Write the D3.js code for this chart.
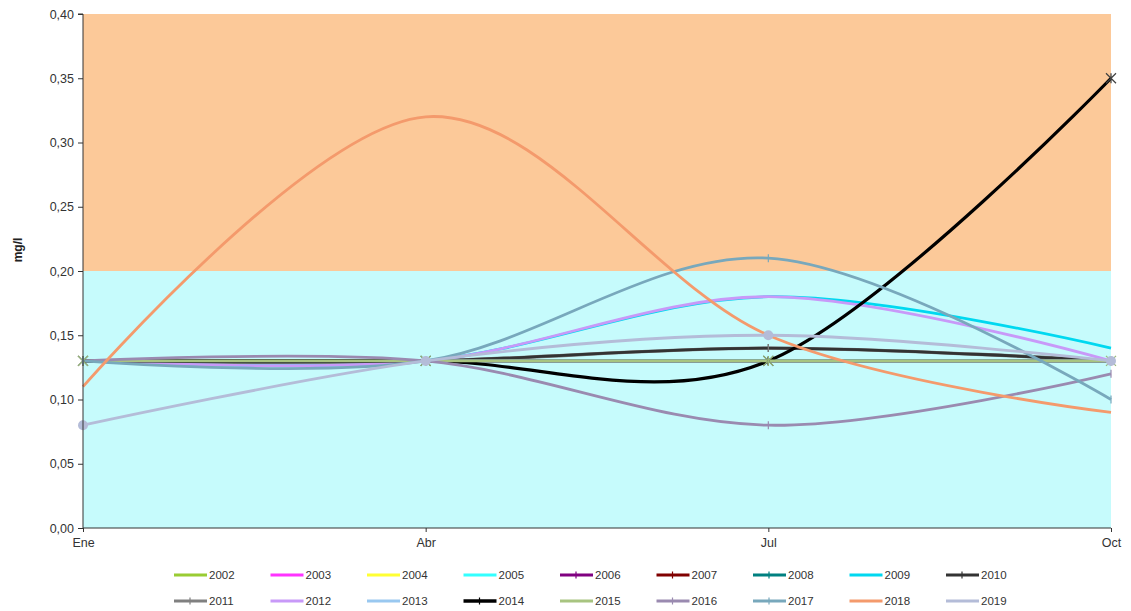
<!DOCTYPE html>
<html>
<head>
<meta charset="utf-8">
<script src="https://cdn.jsdelivr.net/npm/d3@7"></script>
<style>
  html, body { margin: 0; padding: 0; background: #ffffff; }
  svg { display: block; font-family: "Liberation Sans", Arial, sans-serif; }
</style>
</head>
<body>
<svg id="chart" width="1131" height="611"></svg>
<script>
// ---- data ----
const months = ["Ene", "Abr", "Jul", "Oct"];
const yTicks = [0, 0.05, 0.10, 0.15, 0.20, 0.25, 0.30, 0.35, 0.40];
const bands = [
  { from: 0.0, to: 0.2, color: "#c6fbfc" },
  { from: 0.2, to: 0.4, color: "#fcc999" }
];
const years = ["2002","2003","2004","2005","2006","2007","2008","2009","2010",
               "2011","2012","2013","2014","2015","2016","2017","2018","2019"];
const colors = ["#99cc33","#ff33ff","#ffff33","#33ffff","#800080","#800000","#008080","#00d8f0","#333333",
                "#808080","#c899f8","#99c8f0","#000000","#a8c480","#9a8ab0","#78a8bc","#f49a6c","#b4bcd8"];
const v2002 = [0.13, 0.13, 0.13, 0.13];
const v2003 = [0.13, 0.13, 0.13, 0.13];
const v2004 = [0.13, 0.13, 0.13, 0.13];
const v2005 = [0.13, 0.13, 0.13, 0.13];
const v2006 = [0.13, 0.13, 0.13, 0.13];
const v2007 = [0.13, 0.13, 0.13, 0.13];
const v2008 = [0.13, 0.13, 0.13, 0.13];
const v2009 = [0.13, 0.13, 0.18, 0.14];
const v2010 = [0.13, 0.13, 0.14, 0.13];
const v2011 = [0.13, 0.13, 0.14, 0.13];
const v2012 = [0.13, 0.13, 0.18, 0.13];
const v2013 = [0.13, 0.13, 0.13, 0.13];
const v2014 = [0.13, 0.13, 0.13, 0.35];
const v2015 = [0.13, 0.13, 0.13, 0.13];
const v2016 = [0.13, 0.13, 0.08, 0.12];
const v2017 = [0.13, 0.13, 0.21, 0.10];
const v2018 = [0.11, 0.32, 0.15, 0.09];
const v2019 = [0.08, 0.13, 0.15, 0.13];
const seriesValues = [v2002,v2003,v2004,v2005,v2006,v2007,v2008,v2009,v2010,
                      v2011,v2012,v2013,v2014,v2015,v2016,v2017,v2018,v2019];
const markerKinds = ["none","none","none","none","tick","tick","tick","none","tick",
                     "tick","none","none","star","dot","tick","tick","none","circle"];

// ---- layout ----
const svg = d3.select("#chart");
const pLeft = 83, pRight = 1111, pTop = 14, pBottom = 528;
const x = d3.scalePoint().domain(months).range([pLeft, pRight]);
const y = d3.scaleLinear().domain([0, 0.4]).range([pBottom, pTop]);

// background bands
svg.append("g").selectAll("rect").data(bands).join("rect")
  .attr("x", pLeft).attr("width", pRight - pLeft)
  .attr("y", d => y(d.to)).attr("height", d => y(d.from) - y(d.to))
  .attr("fill", d => d.color);

// lines
const line = d3.line().x((d, i) => x(months[i])).y(d => y(d)).curve(d3.curveCardinal.tension(0));
const series = years.map((yr, i) => ({ year: yr, color: colors[i], values: seriesValues[i], marker: markerKinds[i] }));
// draw order: 2011 under 2010 so the darker line shows
const drawOrder = series.slice();
const i10 = drawOrder.findIndex(s => s.year === "2010");
const i11 = drawOrder.findIndex(s => s.year === "2011");
[drawOrder[i10], drawOrder[i11]] = [drawOrder[i11], drawOrder[i10]];
const gLines = svg.append("g");
drawOrder.forEach(s => {
  gLines.append("path").datum(s.values)
    .attr("d", line).attr("fill", "none")
    .attr("stroke", s.color)
    .attr("stroke-width", s.year === "2014" ? 3.2 : (s.year === "2011" ? 3.4 : 2.8))
    .attr("stroke-linejoin", "round");
});

function drawMarker(g, kind, cx, cy, color) {
  if (kind === "tick") {
    g.append("line").attr("x1", cx).attr("x2", cx).attr("y1", cy - 4).attr("y2", cy + 4)
      .attr("stroke", color).attr("stroke-width", 1.2);
  } else if (kind === "star") {
    const r = 5;
    g.append("path")
      .attr("d", `M${cx - r},${cy - r}L${cx + r},${cy + r}M${cx - r},${cy + r}L${cx + r},${cy - r}M${cx},${cy - r}L${cx},${cy + r}`)
      .attr("stroke", color).attr("stroke-width", 1.2).attr("fill", "none");
  } else if (kind === "dot") {
    g.append("circle").attr("cx", cx).attr("cy", cy).attr("r", 2.5).attr("fill", color);
  } else if (kind === "circle") {
    g.append("circle").attr("cx", cx).attr("cy", cy).attr("r", 5).attr("fill", color);
  }
}
const gMarks = svg.append("g");
series.forEach(s => {
  s.values.forEach((v, i) => {
    let kind = s.marker;
    if (s.year === "2015" || s.year === "2014") kind = "star";
    drawMarker(gMarks, kind, x(months[i]), y(v), s.year === "2015" ? "#98b878" : (s.year === "2014" ? "#404040" : s.color));
  });
});

// axes
const yAxis = d3.axisLeft(y).tickValues(yTicks).tickSize(5).tickPadding(4)
  .tickFormat(d => d3.format(".2f")(d).replace(".", ","));
const gy = svg.append("g").attr("transform", `translate(${pLeft},0)`).call(yAxis);
gy.select(".domain").attr("stroke", "#333").attr("d", `M-5,${pTop}H0V${pBottom}`);
gy.selectAll(".tick line").attr("stroke", "#333");
gy.selectAll("text").attr("font-size", 12.5).attr("fill", "#333");

const xAxis = d3.axisBottom(x).tickSize(4).tickPadding(6);
const gx = svg.append("g").attr("transform", `translate(0,${pBottom})`).call(xAxis);
gx.select(".domain").attr("stroke", "#333").attr("d", `M${pLeft},0H${pRight}`);
gx.selectAll(".tick line").attr("stroke", "#333");
gx.selectAll("text").attr("font-size", 12.5).attr("fill", "#333");

// y title
svg.append("text").attr("transform", "translate(22,250) rotate(-90)")
  .attr("text-anchor", "middle").attr("font-size", 12).attr("font-weight", "bold").attr("fill", "#222")
  .text("mg/l");

// legend
const gLeg = svg.append("g");
series.forEach((s, i) => {
  const col = i % 9, row = Math.floor(i / 9);
  const lx = 174 + col * 96.5, ly = 575 + row * 26;
  gLeg.append("line").attr("x1", lx).attr("x2", lx + 33).attr("y1", ly).attr("y2", ly)
    .attr("stroke", s.color).attr("stroke-width", s.year === "2014" ? 3.5 : 3);
  if (s.marker === "tick" || s.marker === "star") {
    gLeg.append("line").attr("x1", lx + 16).attr("x2", lx + 16).attr("y1", ly - 3.5).attr("y2", ly + 3.5)
      .attr("stroke", s.color).attr("stroke-width", 1.2);
  }
  gLeg.append("text").attr("x", lx + 35).attr("y", ly + 4)
    .attr("font-size", 11.5).attr("fill", "#333").text(s.year);
});
</script>
</body>
</html>
